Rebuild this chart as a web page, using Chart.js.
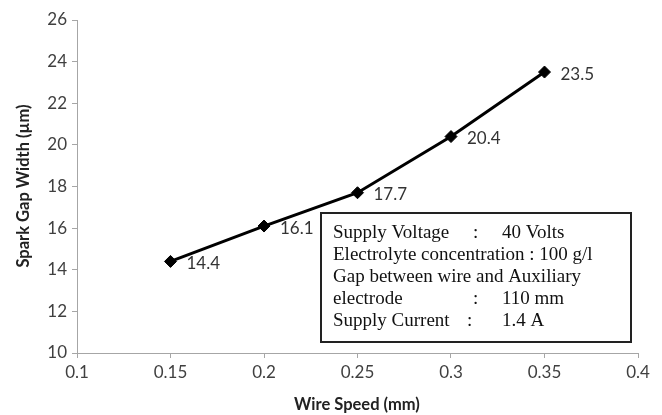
<!DOCTYPE html>
<html>
<head>
<meta charset="utf-8">
<script src="https://cdn.jsdelivr.net/npm/chart.js@4"></script>
<style>
  html, body { margin: 0; padding: 0; background: #fff; }
  #wrap { width: 662px; height: 415px; }
</style>
</head>
<body>
<div id="wrap"><canvas id="myChart" width="662" height="415"></canvas></div>
<script>
// wire speed (mm) vs spark gap width (um)
const wireSpeed = [0.15, 0.2, 0.25, 0.3, 0.35];
const gapWidth = [14.4, 16.1, 17.7, 20.4, 23.5];
const xTickValues = [0.1, 0.15, 0.2, 0.25, 0.3, 0.35, 0.4];
const yTickValues = [10, 12, 14, 16, 18, 20, 22, 24, 26];

const xTitle = 'Wire Speed (mm)';
const yTitle = 'Spark Gap Width (\u00b5m)';

// process conditions box: [text, x offset] per piece
const conditionLines = [
    [['Supply Voltage', 0], [':', 140], ['40 Volts', 169]],
    [['Electrolyte concentration : 100 g/l', 0]],
    [['Gap between wire and Auxiliary', 0]],
    [['electrode', 0], [':', 140], ['110 mm', 169]],
    [['Supply Current', 0], [':', 134], ['1.4 A', 169]],
];

const axisGray = '#a6a6a6';
const tickFont = { family: 'Lato', size: 17 };

const annotate = {
    id: 'annotate',
    afterDraw(chart) {
        const ctx = chart.ctx;
        const meta = chart.getDatasetMeta(0);
        ctx.save();

        // value labels next to each point
        ctx.font = '17px Lato';
        ctx.fillStyle = '#333';
        ctx.textAlign = 'left';
        ctx.textBaseline = 'middle';
        meta.data.forEach((pt, i) => {
            ctx.fillText(gapWidth[i].toFixed(1), pt.x + 16, pt.y + 2);
        });

        // axis titles
        ctx.font = 'bold 16.5px Lato';
        ctx.fillStyle = '#222';
        ctx.textAlign = 'center';
        ctx.fillText(xTitle, 357, 405);
        ctx.save();
        ctx.translate(24, 186);
        ctx.rotate(-Math.PI / 2);
        ctx.fillText(yTitle, 0, 0);
        ctx.restore();

        // conditions box
        const bx = 321, by = 213, bw = 310, bh = 129;
        ctx.fillStyle = '#fff';
        ctx.fillRect(bx, by, bw, bh);
        ctx.lineWidth = 2;
        ctx.strokeStyle = '#222';
        ctx.strokeRect(bx, by, bw, bh);
        ctx.font = '19px "Liberation Serif"';
        ctx.fillStyle = '#111';
        ctx.textAlign = 'left';
        conditionLines.forEach((parts, i) => {
            const y = 233 + i * 22;
            parts.forEach(([txt, dx]) => ctx.fillText(txt, 333 + dx, y));
        });
        ctx.restore();
    }
};

const ctx = document.getElementById('myChart').getContext('2d');
const myChart = new Chart(ctx, {
    type: 'scatter',
    data: {
        datasets: [{
            data: wireSpeed.map((x, i) => ({ x: x, y: gapWidth[i] })),
            showLine: true,
            borderColor: '#000',
            backgroundColor: '#000',
            borderWidth: 3,
            pointStyle: 'rectRot',
            pointRadius: 6,
            pointBorderWidth: 1,
        }]
    },
    options: {
        responsive: false,
        animation: false,
        layout: { padding: { left: 0, top: 20, right: 24, bottom: 0 } },
        plugins: {
            legend: { display: false },
            tooltip: { enabled: false },
        },
        scales: {
            x: {
                type: 'linear',
                min: 0.1,
                max: 0.4,
                afterBuildTicks: (scale) => { scale.ticks = xTickValues.map(v => ({ value: v })); },
                afterFit: (scale) => { scale.height = 62; },
                ticks: {
                    font: tickFont,
                    color: '#404040',
                    padding: 4,
                    maxRotation: 0,
                    callback: (v) => String(Number(v.toFixed(2))),
                },
                grid: { drawOnChartArea: false, drawTicks: true, tickLength: 5, color: axisGray },
                border: { display: true, color: axisGray, width: 1 },
            },
            y: {
                min: 10,
                max: 26,
                afterBuildTicks: (scale) => { scale.ticks = yTickValues.map(v => ({ value: v })); },
                afterFit: (scale) => { scale.width = 77; },
                ticks: {
                    font: tickFont,
                    color: '#404040',
                    padding: 5,
                },
                grid: { drawOnChartArea: false, drawTicks: true, tickLength: 5, color: axisGray },
                border: { display: true, color: axisGray, width: 1 },
            }
        }
    },
    plugins: [annotate]
});
</script>
</body>
</html>
